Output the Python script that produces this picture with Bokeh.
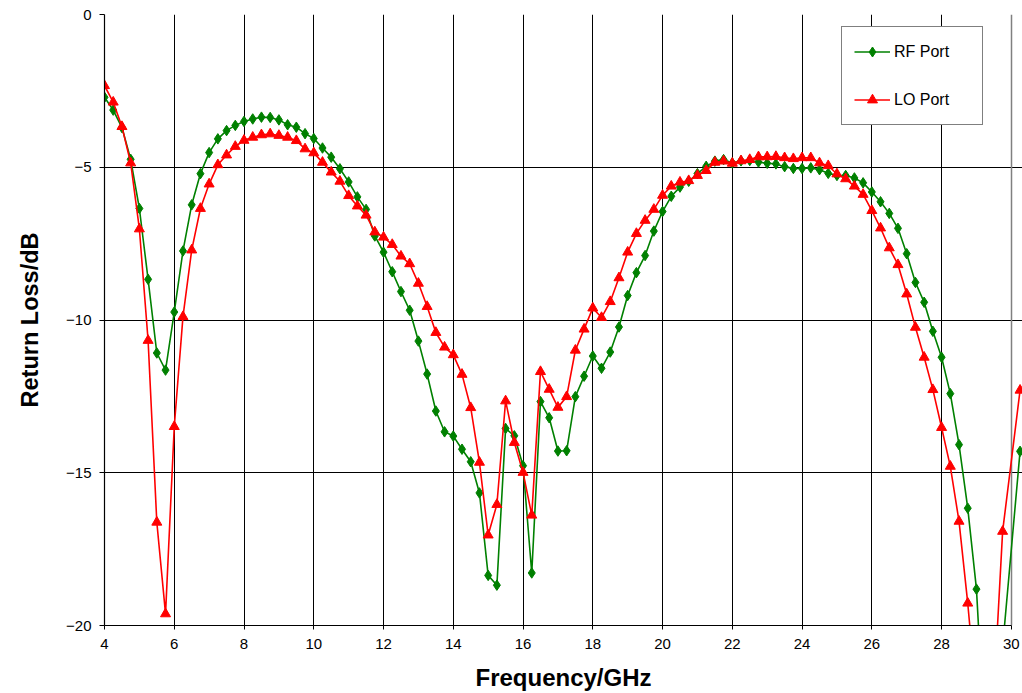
import numpy as np
from bokeh.plotting import figure
from bokeh.models import FixedTicker, Grid, Legend, LegendItem, Range1d, ColumnDataSource
from bokeh.embed import file_html
from bokeh.resources import INLINE

# ---------------- data ----------------
freq_ghz = [4.00, 4.25, 4.50, 4.75, 5.00, 5.25, 5.50, 5.75, 6.00, 6.25, 6.50, 6.75,
            7.00, 7.25, 7.50, 7.75, 8.00, 8.25, 8.50, 8.75, 9.00, 9.25, 9.50, 9.75,
            10.00, 10.25, 10.50, 10.75, 11.00, 11.25, 11.50, 11.75, 12.00, 12.25, 12.50, 12.75,
            13.00, 13.25, 13.50, 13.75, 14.00, 14.25, 14.50, 14.75, 15.00, 15.25, 15.50, 15.75,
            16.00, 16.25, 16.50, 16.75, 17.00, 17.25, 17.50, 17.75, 18.00, 18.25, 18.50, 18.75,
            19.00, 19.25, 19.50, 19.75, 20.00, 20.25, 20.50, 20.75, 21.00, 21.25, 21.50, 21.75,
            22.00, 22.25, 22.50, 22.75, 23.00, 23.25, 23.50, 23.75, 24.00, 24.25, 24.50, 24.75,
            25.00, 25.25, 25.50, 25.75, 26.00, 26.25, 26.50, 26.75, 27.00, 27.25, 27.50, 27.75,
            28.00, 28.25, 28.50, 28.75, 29.00, 29.25, 29.50, 29.75, 30.25]

rf_port = [-2.71, -3.13, -3.70, -4.74, -6.35, -8.67, -11.08, -11.64, -9.74, -7.74, -6.23, -5.21,
           -4.52, -4.07, -3.80, -3.63, -3.50, -3.42, -3.36, -3.37, -3.45, -3.61, -3.69, -3.90,
           -4.06, -4.37, -4.67, -5.05, -5.48, -5.97, -6.38, -7.25, -7.78, -8.42, -9.07, -9.68,
           -10.69, -11.77, -12.98, -13.66, -13.80, -14.23, -14.64, -15.66, -18.36, -18.68, -13.55, -13.79,
           -14.77, -18.28, -12.67, -13.20, -14.29, -14.28, -12.51, -11.84, -11.18, -11.58, -11.05, -10.23,
           -9.20, -8.45, -7.89, -7.09, -6.45, -5.95, -5.65, -5.46, -5.21, -4.97, -4.80, -4.75,
           -4.86, -4.79, -4.78, -4.83, -4.87, -4.89, -4.98, -5.04, -5.04, -5.02, -5.08, -5.20,
           -5.27, -5.27, -5.35, -5.51, -5.81, -6.13, -6.51, -7.00, -7.83, -8.77, -9.42, -10.37,
           -11.22, -12.41, -14.08, -16.16, -18.81, -24.0, -23.0, -20.7, -14.3]

lo_port = [-2.33, -2.87, -3.67, -4.86, -7.02, -10.67, -16.62, -19.62, -13.49, -9.89, -7.71, -6.35,
           -5.55, -4.92, -4.60, -4.32, -4.12, -4.02, -3.94, -3.91, -3.96, -4.02, -4.13, -4.40,
           -4.53, -4.84, -5.16, -5.46, -5.93, -6.27, -6.57, -7.12, -7.29, -7.53, -7.91, -8.16,
           -8.80, -9.56, -10.41, -10.89, -11.14, -11.78, -12.87, -14.66, -17.04, -16.04, -12.65, -14.01,
           -14.99, -16.39, -11.69, -12.27, -12.86, -12.51, -10.99, -10.30, -9.61, -9.92, -9.40, -8.62,
           -7.78, -7.17, -6.74, -6.38, -5.92, -5.62, -5.49, -5.44, -5.27, -5.11, -4.84, -4.80,
           -4.87, -4.79, -4.75, -4.66, -4.66, -4.65, -4.69, -4.72, -4.69, -4.69, -4.86, -4.95,
           -5.22, -5.38, -5.62, -5.89, -6.42, -6.99, -7.64, -8.19, -9.15, -10.24, -11.22, -12.28,
           -13.52, -14.79, -16.59, -19.27, -22.4, -25.0, -22.2, -16.92, -12.3]

x_ticks = [4, 6, 8, 10, 12, 14, 16, 18, 20, 22, 24, 26, 28, 30]
y_ticks = [-20, -15, -10, -5, 0]
series_names = ["RF Port", "LO Port"]
x_title = "Frequency/GHz"
y_title = "Return Loss/dB"

FONT = "Liberation Sans"

src = ColumnDataSource(data=dict(f=freq_ghz, rf=rf_port, lo=lo_port))

p = figure(width=1022, height=693, output_backend="svg", toolbar_location=None,
           x_range=Range1d(4, 30.32), y_range=Range1d(-20, 0),
           min_border_left=104, min_border_right=0, min_border_top=14, min_border_bottom=68)
p.outline_line_color = None
p.background_fill_color = "white"
p.border_fill_color = "white"

p.xgrid.visible = False
p.ygrid.visible = False
p.add_layout(Grid(dimension=0, ticker=FixedTicker(ticks=x_ticks[1:-1]),
                  grid_line_color="black", grid_line_width=1))
p.add_layout(Grid(dimension=1, ticker=FixedTicker(ticks=y_ticks[1:-1]), bounds=(4, 30),
                  grid_line_color="black", grid_line_width=1))
# plot-area border (gray) at x=30 and y=0
p.add_layout(Grid(dimension=0, ticker=FixedTicker(ticks=[x_ticks[-1]]),
                  grid_line_color="#808080", grid_line_width=1.5))
p.add_layout(Grid(dimension=1, ticker=FixedTicker(ticks=[y_ticks[-1]]), bounds=(4, 30),
                  grid_line_color="#808080", grid_line_width=1.5))

xa = p.xaxis[0]
xa.ticker = FixedTicker(ticks=x_ticks)
xa.bounds = (4, 30)
xa.axis_line_color = "black"
xa.axis_line_width = 1.2
xa.major_tick_out = 4
xa.major_tick_in = 0
xa.minor_tick_out = 0
xa.minor_tick_in = 0
xa.major_label_text_font = FONT
xa.major_label_text_font_size = "15px"
xa.major_label_text_color = "black"
xa.major_label_standoff = 9
xa.axis_label = x_title
xa.axis_label_text_font = FONT
xa.axis_label_text_font_size = "24px"
xa.axis_label_text_font_style = "bold"
xa.axis_label_text_color = "black"
xa.axis_label_standoff = 12

ya = p.yaxis[0]
ya.ticker = FixedTicker(ticks=y_ticks)
ya.axis_line_color = "black"
ya.axis_line_width = 1.2
ya.major_tick_out = 5
ya.major_tick_in = 0
ya.minor_tick_out = 0
ya.minor_tick_in = 0
ya.major_label_text_font = FONT
ya.major_label_text_font_size = "15px"
ya.major_label_text_color = "black"
ya.major_label_standoff = 8
ya.axis_label = y_title
ya.axis_label_text_font = FONT
ya.axis_label_text_font_size = "23.5px"
ya.axis_label_text_font_style = "bold"
ya.axis_label_text_color = "black"
ya.axis_label_standoff = 20

GREEN = "#008000"
RED = "#FF0000"

g_line = p.line("f", "rf", source=src, line_color=GREEN, line_width=1.6)
g_mark = p.scatter("f", "rf", source=src, marker="diamond", size=10.5,
                   fill_color=GREEN, line_color=GREEN)
r_line = p.line("f", "lo", source=src, line_color=RED, line_width=1.6)
r_mark = p.scatter("f", "lo", source=src, marker="triangle", size=10,
                   fill_color=RED, line_color=RED)

legend = Legend(items=[LegendItem(label=series_names[0], renderers=[g_line, g_mark]),
                       LegendItem(label=series_names[1], renderers=[r_line, r_mark])],
                location=(737, 500))
legend.padding = 12
legend.spacing = 23
legend.margin = 0
legend.glyph_width = 36
legend.glyph_height = 25
legend.label_height = 25
legend.label_width = 76
legend.label_standoff = 4
legend.label_text_font = FONT
legend.label_text_font_size = "16px"
legend.label_text_color = "black"
legend.border_line_color = "black"
legend.border_line_width = 1
legend.background_fill_color = "white"
legend.background_fill_alpha = 1
p.add_layout(legend)

open("out.html", "w").write(file_html(p, INLINE))
